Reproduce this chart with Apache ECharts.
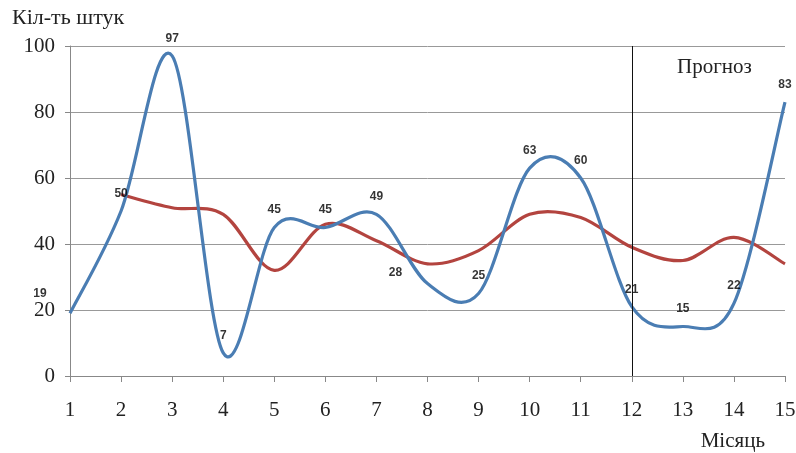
<!DOCTYPE html>
<html>
<head>
<meta charset="utf-8">
<script src="https://cdn.jsdelivr.net/npm/echarts@6/dist/echarts.min.js"></script>
<style>
  html, body { margin: 0; padding: 0; background: #fff; }
  #chart { width: 796px; height: 453px; }
</style>
</head>
<body>
<div id="chart"></div>
<script>
// місяці
var months = ['1', '2', '3', '4', '5', '6', '7', '8', '9', '10', '11', '12', '13', '14', '15'];
// фактичні / прогнозні значення (підписані)
var actual = [19, 50, 97, 7, 45, 45, 49, 28, 25, 63, 60, 21, 15, 22, 83];
// згладжена крива (без підписів), з 2-го місяця
var trend = [null, 55, 51, 49, 32, 46, 41, 34, 38, 49, 48, 39, 35, 42, 34];
var forecastStart = '12';

var chart = echarts.init(document.getElementById('chart'));

var serif = 'Liberation Serif, Times New Roman, serif';

// крива як в Excel (Catmull-Rom), точки беруться через api.coord
function smoothPath(api, values) {
  var pts = [];
  values.forEach(function (v, i) {
    if (v != null) pts.push(api.coord([i, v]));
  });
  var d = 'M' + pts[0][0] + ' ' + pts[0][1];
  for (var i = 0; i < pts.length - 1; i++) {
    var p0 = pts[i - 1] || pts[i];
    var p1 = pts[i];
    var p2 = pts[i + 1];
    var p3 = pts[i + 2] || pts[i + 1];
    var c1x = p1[0] + (p2[0] - p0[0]) / 6, c1y = p1[1] + (p2[1] - p0[1]) / 6;
    var c2x = p2[0] - (p3[0] - p1[0]) / 6, c2y = p2[1] - (p3[1] - p1[1]) / 6;
    d += ' C' + c1x + ' ' + c1y + ' ' + c2x + ' ' + c2y + ' ' + p2[0] + ' ' + p2[1];
  }
  return d;
}

function curveSeries(values, color, z) {
  return {
    type: 'custom',
    data: [[0, values[0] == null ? 0 : values[0]]],
    silent: true,
    z: z,
    renderItem: function (params, api) {
      return {
        type: 'path',
        shape: { pathData: smoothPath(api, values) },
        style: { fill: null, stroke: color, lineWidth: 3.2 }
      };
    }
  };
}

// деякі підписи стоять не над точкою
var labelTweaks = {
  0: { offset: [-30, -2] },
  7: { offset: [-32, 7] }
};

var labelData = actual.map(function (v, i) {
  var item = { value: [i, v] };
  if (labelTweaks[i]) item.label = labelTweaks[i];
  return item;
});

var option = {
  animation: false,
  grid: { left: 70, right: 11, top: 46, bottom: 77, outerBoundsMode: 'none', containLabel: false },
  xAxis: {
    type: 'category',
    data: months,
    boundaryGap: false,
    name: 'Місяць',
    nameLocation: 'end',
    nameGap: 0,
    nameTextStyle: {
      fontFamily: serif, fontSize: 21, color: '#222',
      align: 'right', verticalAlign: 'top', padding: [55, 20, 0, 0]
    },
    axisLine: { lineStyle: { color: '#888', width: 1 } },
    axisTick: { alignWithLabel: true, length: 6, lineStyle: { color: '#888' } },
    axisLabel: { fontFamily: serif, fontSize: 21, color: '#222', margin: 24 },
    splitLine: { show: false }
  },
  yAxis: {
    type: 'value',
    min: 0,
    max: 100,
    interval: 20,
    name: 'Кіл-ть штук',
    nameLocation: 'end',
    nameGap: 17,
    nameTextStyle: {
      fontFamily: serif, fontSize: 22, color: '#222',
      align: 'left', padding: [0, 0, 0, -58]
    },
    axisLine: { show: true, lineStyle: { color: '#888', width: 1 } },
    axisTick: { show: true, length: 5, lineStyle: { color: '#888' } },
    axisLabel: { fontFamily: serif, fontSize: 21, color: '#222', margin: 15 },
    splitLine: { show: true, lineStyle: { color: '#999', width: 1 } }
  },
  graphic: [{
    type: 'text',
    left: 677,
    top: 57,
    style: { text: 'Прогноз', font: '21px ' + serif, fill: '#222' }
  }],
  series: [
    curveSeries(trend, '#b3443f', 2),
    curveSeries(actual, '#4a7db3', 3),
    {
      name: 'labels',
      type: 'scatter',
      data: labelData,
      symbolSize: 1,
      itemStyle: { color: 'rgba(0,0,0,0)' },
      label: {
        show: true,
        position: 'top',
        distance: 11,
        fontFamily: 'Liberation Sans, Arial, sans-serif',
        fontWeight: 'bold',
        fontSize: 12,
        color: '#000'
      },
      markLine: {
        silent: true,
        symbol: 'none',
        label: { show: false },
        lineStyle: { color: '#111', width: 1, type: 'solid' },
        data: [{ xAxis: forecastStart }]
      },
      z: 4
    }
  ]
};

chart.setOption(option);
</script>
</body>
</html>
